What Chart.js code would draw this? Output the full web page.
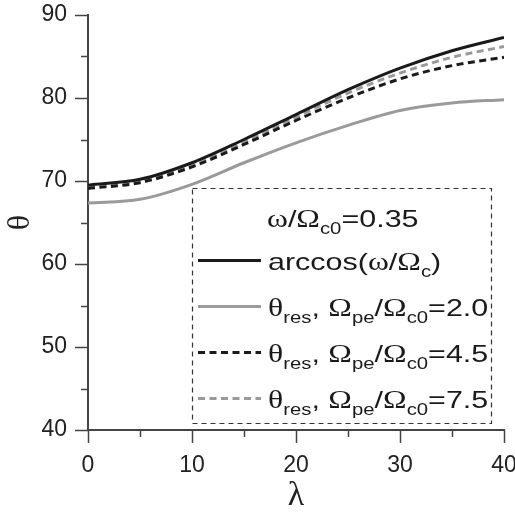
<!DOCTYPE html>
<html>
<head>
<meta charset="utf-8">
<script src="https://cdn.jsdelivr.net/npm/chart.js@4.4.1/dist/chart.umd.min.js"></script>
<style>
  html, body { margin: 0; padding: 0; background: #fff; }
  #wrap { width: 515px; height: 513px; position: relative; }
</style>
</head>
<body>
<div id="wrap"><canvas id="myChart"></canvas></div>
<script>
// lambda (deg) and theta (deg)
const lambda = [0, 5, 10, 15, 20, 25, 30, 35, 40];
const thetaArccos = [69.5, 70.2, 72.2, 75.0, 78.0, 81.0, 83.6, 85.7, 87.3];
const thetaRes20 = [67.35, 67.8, 69.6, 72.2, 74.6, 76.7, 78.5, 79.4, 79.8];
const thetaRes45 = [69.1, 69.8, 71.7, 74.4, 77.3, 80.0, 82.3, 83.9, 84.9];
const thetaRes75 = [69.3, 70.0, 71.9, 74.7, 77.7, 80.6, 83.0, 84.9, 86.2];

const xTickValues = [0, 10, 20, 30, 40];
const yTickValues = [40, 50, 60, 70, 80, 90];

// legend text, split in runs: g = greek (serif), s = subscript
const legendTitle = [['ω', 'g'], ['/'], ['Ω', 'g'], ['c0', 's'], ['=0.35']];
const legendRows = [
    [['arccos('], ['ω', 'g'], ['/'], ['Ω', 'g'], ['c', 's'], [')']],
    [['θ', 'g'], ['res', 's'], [', '], ['Ω', 'g'], ['pe', 's'], ['/'], ['Ω', 'g'], ['c0', 's'], ['=2.0']],
    [['θ', 'g'], ['res', 's'], [', '], ['Ω', 'g'], ['pe', 's'], ['/'], ['Ω', 'g'], ['c0', 's'], ['=4.5']],
    [['θ', 'g'], ['res', 's'], [', '], ['Ω', 'g'], ['pe', 's'], ['/'], ['Ω', 'g'], ['c0', 's'], ['=7.5']]
];

const BLACK = '#1a1a1a';
const GREY = '#9a9a9a';
const styles = [
    { color: BLACK, dash: [] },
    { color: GREY, dash: [] },
    { color: BLACK, dash: [7, 4.5] },
    { color: GREY, dash: [7, 4.5] }
];
const series = [thetaArccos, thetaRes20, thetaRes45, thetaRes75];

// the legend lettering in the original is stretched sideways
function drawRuns(ctx, x0, y, runs) {
    ctx.save();
    ctx.translate(x0, y);
    ctx.scale(1.27, 1);
    let x = 0;
    runs.forEach(r => {
        let font = '24px "Liberation Sans", Arial, sans-serif';
        let dy = 0;
        if (r[1] === 'g') font = '25px "Liberation Serif", "Times New Roman", serif';
        if (r[1] === 's') { font = '16px "Liberation Sans", Arial, sans-serif'; dy = 7; }
        ctx.font = font;
        ctx.fillText(r[0], x, dy);
        x += ctx.measureText(r[0]).width;
    });
    ctx.restore();
}

// minor + major ticks pointing outwards
const axisTicks = {
    id: 'axisTicks',
    afterDraw(chart) {
        const { ctx, chartArea, scales: { x, y } } = chart;
        ctx.save();
        ctx.strokeStyle = '#444';
        ctx.lineWidth = 1.5;
        ctx.beginPath();
        for (let v = 0; v <= 40; v += 5) {
            const px = Math.round(x.getPixelForValue(v)) + 0.5;
            const len = v % 10 === 0 ? 13 : 7;
            ctx.moveTo(px, chartArea.bottom);
            ctx.lineTo(px, chartArea.bottom + len);
        }
        for (let v = 40; v <= 90; v += 5) {
            const py = Math.round(y.getPixelForValue(v)) + 0.5;
            const len = v % 10 === 0 ? 13 : 7;
            ctx.moveTo(chartArea.left, py);
            ctx.lineTo(chartArea.left - len, py);
        }
        ctx.stroke();
        ctx.restore();
    }
};

// dashed legend box drawn inside the plot
const boxLegend = {
    id: 'boxLegend',
    afterDraw(chart) {
        const ctx = chart.ctx;
        ctx.save();
        ctx.strokeStyle = '#333';
        ctx.lineWidth = 1.2;
        ctx.setLineDash([5, 4]);
        ctx.strokeRect(192.5, 188.5, 299, 235);

        ctx.fillStyle = '#1a1a1a';
        ctx.textBaseline = 'alphabetic';
        drawRuns(ctx, 267, 227, legendTitle);

        legendRows.forEach((row, i) => {
            const ly = 260.5 + i * 46;
            ctx.strokeStyle = styles[i].color;
            ctx.lineWidth = 3;
            ctx.setLineDash(styles[i].dash);
            ctx.beginPath();
            ctx.moveTo(198, ly);
            ctx.lineTo(261, ly);
            ctx.stroke();
            drawRuns(ctx, 268, ly + 9.5, row);
        });
        ctx.restore();
    }
};

const ctx = document.getElementById('myChart').getContext('2d');
const chart = new Chart(ctx, {
    type: 'line',
    data: {
        datasets: series.map((s, i) => ({
            data: lambda.map((l, j) => ({ x: l, y: s[j] })),
            borderColor: styles[i].color,
            borderDash: styles[i].dash,
            borderWidth: 3,
            pointRadius: 0,
            fill: false,
            cubicInterpolationMode: 'monotone'
        }))
    },
    options: {
        responsive: true,
        maintainAspectRatio: false,
        animation: false,
        layout: { padding: { top: 15, right: 11, left: 0, bottom: 0 } },
        plugins: {
            legend: { display: false },
            tooltip: { enabled: false }
        },
        scales: {
            x: {
                type: 'linear',
                min: 0,
                max: 40,
                afterBuildTicks: s => { s.ticks = xTickValues.map(v => ({ value: v })); },
                afterFit: s => { s.height = 83; s.paddingLeft = 0; s.paddingRight = 0; },
                grid: { display: false, drawTicks: false },
                border: { display: true, color: '#444', width: 2 },
                ticks: {
                    color: '#222',
                    padding: 22,
                    maxRotation: 0,
                    font: { family: '"Liberation Sans", Arial, sans-serif', size: 23 }
                },
                title: {
                    display: true,
                    text: 'λ',
                    color: '#222',
                    padding: { top: 0, bottom: -3 },
                    font: { family: '"Liberation Serif", serif', size: 34 }
                }
            },
            y: {
                type: 'linear',
                min: 40,
                max: 90,
                afterBuildTicks: s => { s.ticks = yTickValues.map(v => ({ value: v })); },
                afterFit: s => { s.width = 88; s.paddingTop = 0; s.paddingBottom = 0; },
                grid: { display: false, drawTicks: false },
                border: { display: true, color: '#444', width: 2 },
                ticks: {
                    color: '#222',
                    padding: 21,
                    font: { family: '"Liberation Sans", Arial, sans-serif', size: 23 }
                },
                title: {
                    display: true,
                    text: 'θ',
                    color: '#222',
                    padding: { top: 1, bottom: 0 },
                    font: { family: '"Liberation Serif", serif', size: 32 }
                }
            }
        }
    },
    plugins: [axisTicks, boxLegend]
});
</script>
</body>
</html>
